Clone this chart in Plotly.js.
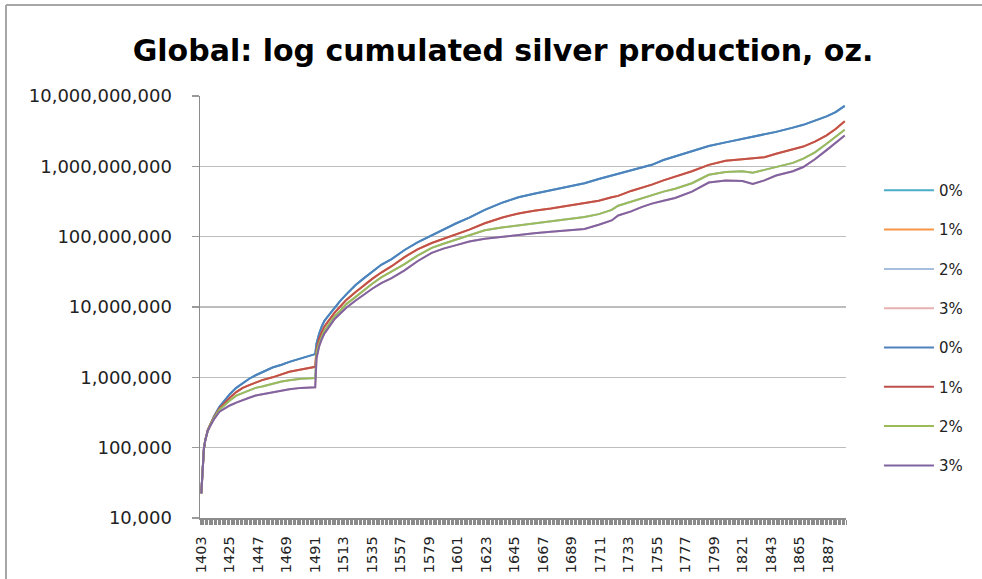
<!DOCTYPE html>
<html>
<head>
<meta charset="utf-8">
<script src="https://cdn.plot.ly/plotly-3.0.1.min.js"></script>
<style>html,body{margin:0;padding:0;background:#fff;}#chart{width:982px;height:579px;}</style>
</head>
<body>
<div id="chart"></div>
<script>
const years = [1403,1404,1405,1406,1408,1410,1413,1417,1421,1425,1430,1435,1440,1445,1450,1458,1465,1471,1480,1491,
  1492,1493,1494,1496,1498,1500,1503,1506,1510,1515,1522,1528,1535,1542,1550,1560,1570,1581,1590,1600,
  1610,1622,1635,1648,1660,1673,1686,1699,1710,1720,1725,1735,1743,1751,1760,1769,1782,1795,1808,1821,
  1829,1838,1847,1860,1868,1877,1886,1893,1900];

const rate0 = [2.24e4,5.89e4,9.55e4,1.26e5,1.78e5,2.14e5,2.82e5,3.80e5,4.68e5,5.75e5,7.08e5,8.32e5,9.55e5,1.07e6,1.17e6,1.38e6,1.51e6,1.66e6,1.86e6,2.14e6,
  3.02e6,3.63e6,4.17e6,5.25e6,6.31e6,7.08e6,8.32e6,9.77e6,1.20e7,1.51e7,2.04e7,2.51e7,3.16e7,3.98e7,4.79e7,6.46e7,8.32e7,1.05e8,1.26e8,1.55e8,
  1.86e8,2.40e8,3.02e8,3.63e8,4.07e8,4.57e8,5.13e8,5.75e8,6.61e8,7.41e8,7.94e8,8.91e8,9.55e8,1.05e9,1.23e9,1.38e9,1.62e9,1.95e9,2.19e9,2.45e9,
  2.63e9,2.82e9,3.09e9,3.55e9,3.89e9,4.47e9,5.13e9,5.89e9,7.24e9];

const rate1 = [2.24e4,5.89e4,9.55e4,1.26e5,1.78e5,2.14e5,2.75e5,3.63e5,4.37e5,5.13e5,6.17e5,7.08e5,7.76e5,8.51e5,9.12e5,1.00e6,1.10e6,1.20e6,1.29e6,1.41e6,
  2.51e6,3.09e6,3.55e6,4.37e6,5.25e6,5.89e6,7.08e6,8.32e6,1.00e7,1.26e7,1.62e7,2.00e7,2.51e7,3.09e7,3.80e7,5.13e7,6.61e7,8.13e7,9.33e7,1.07e8,
  1.26e8,1.55e8,1.86e8,2.14e8,2.34e8,2.51e8,2.75e8,2.95e8,3.24e8,3.63e8,3.80e8,4.47e8,4.90e8,5.50e8,6.31e8,7.08e8,8.51e8,1.05e9,1.20e9,1.26e9,
  1.29e9,1.35e9,1.51e9,1.74e9,1.91e9,2.24e9,2.75e9,3.39e9,4.37e9];

const rate2 = [2.24e4,5.89e4,9.55e4,1.26e5,1.74e5,2.09e5,2.69e5,3.47e5,4.07e5,4.68e5,5.50e5,6.03e5,6.61e5,7.08e5,7.41e5,8.13e5,8.71e5,9.12e5,9.55e5,9.77e5,
  2.19e6,2.69e6,3.09e6,3.80e6,4.57e6,5.13e6,6.31e6,7.41e6,8.71e6,1.10e7,1.38e7,1.70e7,2.14e7,2.63e7,3.16e7,4.07e7,5.37e7,6.92e7,7.94e7,9.12e7,
  1.05e8,1.23e8,1.35e8,1.45e8,1.55e8,1.66e8,1.78e8,1.91e8,2.09e8,2.40e8,2.75e8,3.16e8,3.47e8,3.89e8,4.37e8,4.79e8,5.75e8,7.59e8,8.32e8,8.51e8,
  8.13e8,8.91e8,9.77e8,1.12e9,1.29e9,1.58e9,2.09e9,2.63e9,3.31e9];

const rate3 = [2.24e4,5.89e4,9.55e4,1.26e5,1.74e5,2.04e5,2.57e5,3.24e5,3.63e5,3.98e5,4.37e5,4.79e5,5.13e5,5.50e5,5.75e5,6.17e5,6.46e5,6.76e5,7.08e5,7.24e5,
  1.86e6,2.34e6,2.75e6,3.47e6,4.17e6,4.68e6,5.75e6,6.76e6,7.94e6,9.77e6,1.23e7,1.48e7,1.82e7,2.19e7,2.57e7,3.31e7,4.47e7,5.89e7,6.76e7,7.59e7,
  8.51e7,9.33e7,1.00e8,1.05e8,1.12e8,1.17e8,1.23e8,1.29e8,1.48e8,1.70e8,2.00e8,2.29e8,2.63e8,2.95e8,3.24e8,3.55e8,4.37e8,5.89e8,6.31e8,6.17e8,
  5.62e8,6.31e8,7.41e8,8.51e8,9.77e8,1.26e9,1.70e9,2.14e9,2.75e9];

const seriesNames = ['0%','1%','2%','3%'];
const seriesValues = [rate0, rate1, rate2, rate3];
const lightColors = ['#4BACC6','#F79646','#A7BFDE','#E6B1B0'];
const darkColors = ['#4F81BD','#C0504D','#9BBB59','#8064A2'];

const traces = [];
seriesNames.forEach((n, i) => {
  traces.push({x: years, y: seriesValues[i], name: n, type: 'scatter', mode: 'lines',
    legendgroup: 'a' + i, line: {color: lightColors[i], width: 2}, hoverinfo: 'skip'});
});
seriesNames.forEach((n, i) => {
  traces.push({x: years, y: seriesValues[i], name: n, type: 'scatter', mode: 'lines',
    legendgroup: 'b' + i, line: {color: darkColors[i], width: 2}});
});

const layout = {
  width: 982, height: 579,
  margin: {l: 200, r: 136, t: 96, b: 61, pad: 0},
  paper_bgcolor: '#fff', plot_bgcolor: '#fff',
  title: {text: 'Global: log cumulated silver production, oz.',
    font: {family: 'DejaVu Sans', size: 30, color: '#000', weight: 'bold'},
    x: 503/982, xref: 'container', xanchor: 'center', y: 1 - 50/579, yref: 'container', yanchor: 'middle'},
  xaxis: {type: 'linear', range: [1402, 1901], tick0: 1403, dtick: 22, tickangle: -90,
    ticks: 'outside', ticklen: 5, tickcolor: '#8a8a8a', tickwidth: 1,
    minor: {dtick: 1, tick0: 1403, ticks: 'outside', ticklen: 5, tickcolor: '#8a8a8a', tickwidth: 1},
    showgrid: false, zeroline: false, showline: true, linecolor: '#8c8c8c', linewidth: 1.5,
    tickfont: {family: 'DejaVu Sans', size: 14.5, color: '#222'}, ticklabelstandoff: 6},
  yaxis: {type: 'log', range: [4, 10], dtick: 1, tickformat: ',d',
    ticks: 'outside', ticklen: 7, tickcolor: '#9a9a9a', tickwidth: 1.5,
    showgrid: true, gridcolor: '#bdbdbd', gridwidth: 1.5, zeroline: false,
    showline: true, linecolor: '#8c8c8c', linewidth: 1.5,
    tickfont: {family: 'DejaVu Sans', size: 18, color: '#222'}, ticklabelstandoff: 16},
  legend: {x: 1.051, xanchor: 'left', y: 0.815, yanchor: 'top', traceorder: 'grouped',
    tracegroupgap: 16.8, itemwidth: 50, bgcolor: 'rgba(0,0,0,0)',
    font: {family: 'DejaVu Sans', size: 15, color: '#222'}},
  shapes: [
    {type: 'line', xref: 'paper', yref: 'paper', x0: -0.3003, x1: -0.3003, y0: 1.2156, y1: -0.15, line: {color: '#a6a6a6', width: 2}},
    {type: 'line', xref: 'paper', yref: 'paper', x0: -0.3003, x1: 1.22, y0: 1.2156, y1: 1.2156, line: {color: '#a6a6a6', width: 2}}
  ],
  showlegend: true
};

Plotly.newPlot('chart', traces, layout, {staticPlot: true, displayModeBar: false});
</script>
</body>
</html>
